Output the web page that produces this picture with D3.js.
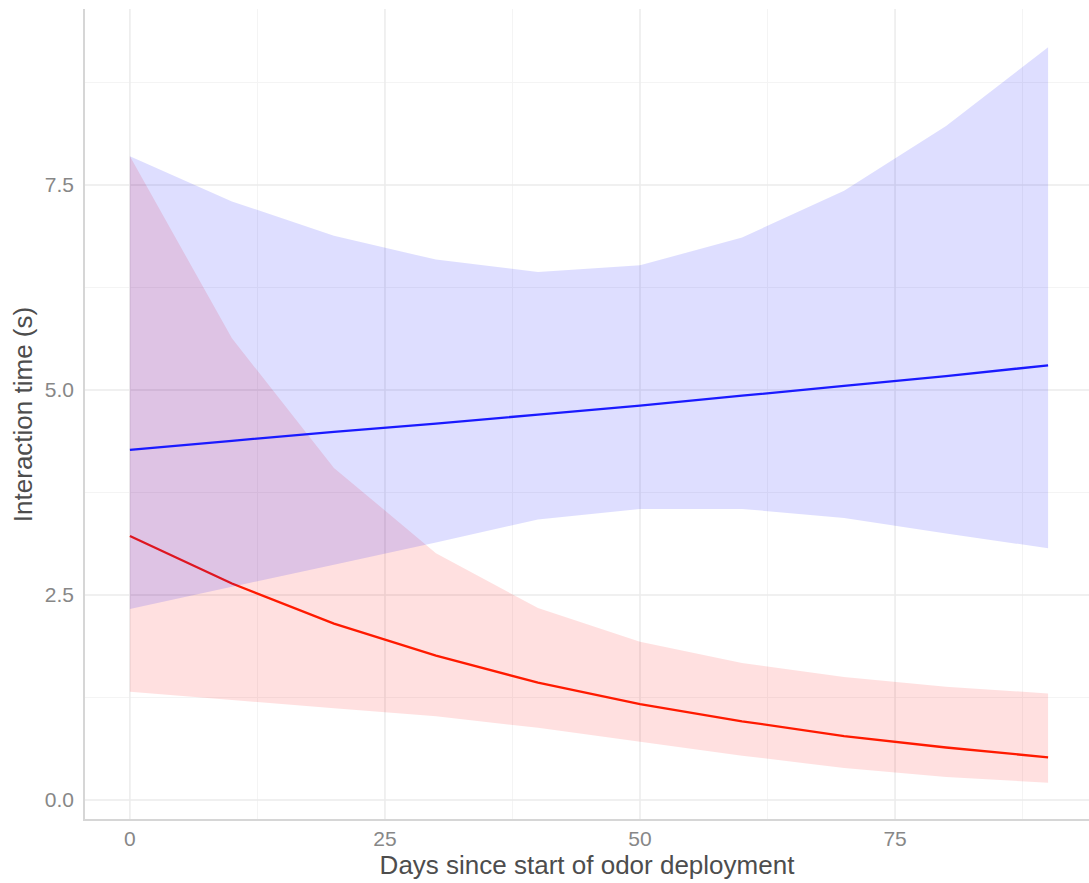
<!DOCTYPE html>
<html>
<head>
<meta charset="utf-8">
<script src="https://cdn.jsdelivr.net/npm/d3@7"></script>
<style>
  html, body { margin: 0; padding: 0; background: #fff; overflow: hidden; }
  svg { display: block; font-family: "Liberation Sans", Arial, sans-serif; }
</style>
</head>
<body>
<svg id="chart" width="1089" height="883"></svg>
<script>
// model predictions every 10 days
const days = [0, 10, 20, 30, 40, 50, 60, 70, 80, 90];

const blueFit   = [4.27, 4.38, 4.49, 4.59, 4.70, 4.81, 4.93, 5.05, 5.17, 5.30];
const blueLower = [2.33, 2.60, 2.87, 3.14, 3.42, 3.55, 3.55, 3.44, 3.25, 3.07];
const blueUpper = [7.85, 7.30, 6.88, 6.59, 6.44, 6.52, 6.86, 7.43, 8.22, 9.18];

const redFit   = [3.22, 2.64, 2.15, 1.76, 1.43, 1.17, 0.96, 0.78, 0.64, 0.52];
const redLower = [1.32, 1.22, 1.12, 1.02, 0.88, 0.71, 0.54, 0.39, 0.28, 0.21];
const redUpper = [7.85, 5.63, 4.05, 3.01, 2.34, 1.93, 1.67, 1.50, 1.38, 1.30];

const xTicks = [0, 25, 50, 75];
const xMinor = [12.5, 37.5, 62.5, 87.5];
const yTicks = [0, 2.5, 5, 7.5];
const yMinor = [1.25, 3.75, 6.25, 8.75];

const svg = d3.select("svg#chart");

const panel = { left: 84, top: 9, right: 1094, bottom: 820 };

const x = d3.scaleLinear().domain([-4.5, 94.5]).range([panel.left, panel.right]);
const y = d3.scaleLinear().domain([-0.244, 9.646]).range([panel.bottom, panel.top]);

// grid
const grid = svg.append("g");
grid.selectAll(".ymin").data(yMinor).enter().append("line")
  .attr("x1", panel.left).attr("x2", panel.right)
  .attr("y1", d => y(d)).attr("y2", d => y(d))
  .attr("stroke", "#f4f4f4").attr("stroke-width", 1);
grid.selectAll(".xmin").data(xMinor).enter().append("line")
  .attr("y1", panel.top).attr("y2", panel.bottom)
  .attr("x1", d => x(d)).attr("x2", d => x(d))
  .attr("stroke", "#f4f4f4").attr("stroke-width", 1);
grid.selectAll(".ymaj").data(yTicks).enter().append("line")
  .attr("x1", panel.left).attr("x2", panel.right)
  .attr("y1", d => y(d)).attr("y2", d => y(d))
  .attr("stroke", "#ebebeb").attr("stroke-width", 1.5);
grid.selectAll(".xmaj").data(xTicks).enter().append("line")
  .attr("y1", panel.top).attr("y2", panel.bottom)
  .attr("x1", d => x(d)).attr("x2", d => x(d))
  .attr("stroke", "#ebebeb").attr("stroke-width", 1.5);

const area = (lo, hi) => d3.area()
  .x((d, i) => x(days[i]))
  .y0((d, i) => y(lo[i]))
  .y1((d, i) => y(hi[i]));

const line = vals => d3.line()
  .x((d, i) => x(days[i]))
  .y((d, i) => y(vals[i]));

// red first, blue ribbon drawn over it
svg.append("path").datum(days)
  .attr("d", area(redLower, redUpper))
  .attr("fill", "red").attr("fill-opacity", 0.12);
svg.append("path").datum(days)
  .attr("d", line(redFit))
  .attr("fill", "none").attr("stroke", "#ff1a00").attr("stroke-width", 2.3);

svg.append("path").datum(days)
  .attr("d", area(blueLower, blueUpper))
  .attr("fill", "blue").attr("fill-opacity", 0.13);
svg.append("path").datum(days)
  .attr("d", line(blueFit))
  .attr("fill", "none").attr("stroke", "#1a1aff").attr("stroke-width", 2.3);

// axis lines
svg.append("line")
  .attr("x1", panel.left).attr("x2", panel.left)
  .attr("y1", panel.top).attr("y2", panel.bottom + 1)
  .attr("stroke", "#d6d6d6").attr("stroke-width", 2);
svg.append("line")
  .attr("x1", panel.left - 1).attr("x2", panel.right)
  .attr("y1", panel.bottom).attr("y2", panel.bottom)
  .attr("stroke", "#d6d6d6").attr("stroke-width", 2);

// tick labels
svg.selectAll(".xlab").data(xTicks).enter().append("text")
  .attr("x", d => x(d)).attr("y", 846)
  .attr("text-anchor", "middle")
  .attr("font-size", 21).attr("fill", "#878787")
  .text(d => d3.format("d")(d));

svg.selectAll(".ylab").data(yTicks).enter().append("text")
  .attr("x", 74).attr("y", d => y(d) + 7.5)
  .attr("text-anchor", "end")
  .attr("font-size", 21).attr("fill", "#878787")
  .text(d => d3.format(".1f")(d));

// axis titles
svg.append("text")
  .attr("x", 587).attr("y", 874)
  .attr("text-anchor", "middle")
  .attr("font-size", 26).attr("fill", "#4d4d4d")
  .text("Days since start of odor deployment");

svg.append("text")
  .attr("transform", "translate(32," + (panel.top + panel.bottom) / 2 + ") rotate(-90)")
  .attr("text-anchor", "middle")
  .attr("font-size", 26).attr("fill", "#4d4d4d")
  .text("Interaction time (s)");
</script>
</body>
</html>
